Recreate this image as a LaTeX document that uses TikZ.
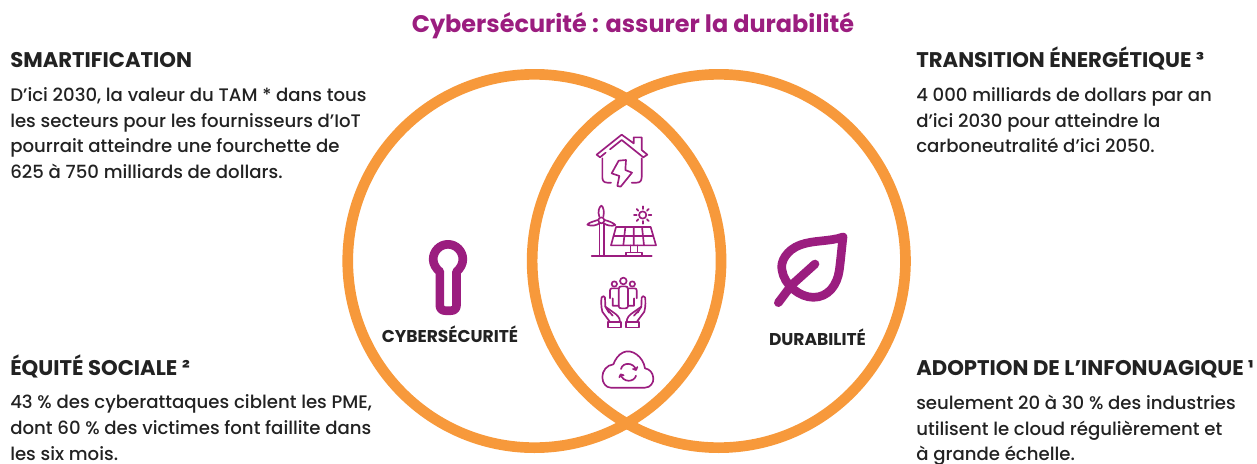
\documentclass[tikz,border=0pt]{standalone}
\usepackage{fontspec}
\setmainfont{Poppins}[UprightFont=* Medium,BoldFont=* Bold]
\usepackage{tikz}
\definecolor{magenta1}{HTML}{9B1D7F}
\definecolor{orange1}{HTML}{F7993B}
\definecolor{ink}{HTML}{222222}
\tikzstyle{ring}    = [draw=orange1,line width=8pt,circle,minimum size=280pt,inner sep=0pt]
\tikzstyle{title}   = [anchor=base,text=magenta1,font=\bfseries\fontsize{17.95pt}{20pt}\selectfont,inner sep=0pt]
\tikzstyle{heading} = [anchor=base west,text=ink,font=\bfseries\fontsize{15.9pt}{18pt}\selectfont,inner sep=0pt]
\tikzstyle{body}    = [anchor=north west,align=left,text=ink,font=\fontsize{13.6pt}{19.4pt}\selectfont,inner sep=0pt]
\tikzstyle{caption} = [anchor=base,text=ink,font=\bfseries\fontsize{12.8pt}{14pt}\selectfont,inner sep=0pt]
\tikzstyle{icon}    = [draw=magenta1,line width=1.25pt,line cap=round,line join=round,x=0.25pt,y=-0.25pt]
\tikzstyle{bigicon} = [draw=magenta1,line width=6.5pt,line cap=round,line join=round,x=0.25pt,y=-0.25pt]

\begin{document}
\begin{tikzpicture}[x=0.75pt,y=-0.75pt]
\useasboundingbox (0,0) rectangle (1257,464);

\node[ring] (C1) at (534.4,261) {};
\node[ring] (C2) at (718.8,261) {};

\node[title] (T0) at (633,32) {Cybersécurité : assurer la durabilité};

\node[heading] (H1) at (10,67)  {SMARTIFICATION};
\node[body]    (B1) at (10,87)  {D’ici 2030, la valeur du TAM * dans tous\\les secteurs pour les fournisseurs d’IoT\\pourrait atteindre une fourchette de\\625 à 750 milliards de dollars.};
\node[heading] (H2) at (10,375) {ÉQUITÉ SOCIALE ²};
\node[body]    (B2) at (10,394.5) {43 \% des cyberattaques ciblent les PME,\\dont 60 \% des victimes font faillite dans\\les six mois.};
\node[heading] (H3) at (916,67) {TRANSITION ÉNERGÉTIQUE ³};
\node[body]    (B3) at (916,87) {4 000 milliards de dollars par an\\d’ici 2030 pour atteindre la\\carboneutralité d’ici 2050.};
\node[heading] (H4) at (916,375) {ADOPTION DE L’INFONUAGIQUE ¹};
\node[body]    (B4) at (916,394.5) {seulement 20 à 30 \% des industries\\utilisent le cloud régulièrement et\\à grande échelle.};

\node[caption] (L1) at (450,342) {CYBERSÉCURITÉ};
\node[caption] (L2) at (817.5,345) {DURABILITÉ};

% keyhole
\begin{scope}[shift={(370,230)},x=0.25pt,y=-0.25pt]
\draw[bigicon] (209.5,125) -- (209.5,226) .. controls (209.5,236) and (216,242) .. (226,242) -- (243,242) .. controls (253,242) and (259.5,236) .. (259.5,226) -- (259.5,125)
    .. controls (271,116) and (278.5,102) .. (278.5,88) .. controls (278.5,63) and (258,43) .. (234,43) .. controls (210,43) and (189.5,63) .. (189.5,88) .. controls (189.5,102) and (198,116) .. (209.5,125);
\end{scope}

% leaf
\begin{scope}[shift={(750,220)},x=0.25pt,y=-0.25pt]
\draw[bigicon] (279,51) .. controls (240,65) and (190,60) .. (150,75) .. controls (110,90) and (90,125) .. (96,150) .. controls (102,195) and (150,232) .. (190,232) .. controls (235,232) and (262,195) .. (268,150) .. controls (272,120) and (275,85) .. (279,51) -- cycle;
\draw[bigicon] (85,248) -- (125,195) -- (195,132);
\end{scope}

% house
\begin{scope}[shift={(560,120)},x=0.25pt,y=-0.25pt]
\draw[icon] (150,88) -- (185,60) -- (250,112) -- (262,104) -- (245,90) -- (245,52) -- (221,52) -- (221,70) -- (185,44) -- (110,104) -- (120,112) -- (137,98);
\draw[icon] (127,115) -- (127,172) .. controls (127,182) and (132,188) .. (142,188) -- (153,188);
\draw[icon] (245,115) -- (245,172) .. controls (245,182) and (240,188) .. (230,188) -- (215,188);
\draw[icon] (198,120) -- (176,122) -- (155,160) -- (178,168) -- (172,198) -- (182,200) -- (216,158) -- (196,150) -- cycle;
\end{scope}

% wind turbine and solar panel
\begin{scope}[shift={(560,120)},x=0.25pt,y=-0.25pt]
\draw[icon] (95,407) -- (275,407);
\draw[icon] (118,407) -- (118,312) (131,407) -- (131,312);
\draw[icon] (124,301) circle (9);
\draw[icon] (118,290) .. controls (112,275) and (118,260) .. (124,257) .. controls (130,260) and (134,275) .. (130,290);
\draw[icon] (113,300) .. controls (100,305) and (85,308) .. (82,314) .. controls (95,320) and (110,316) .. (118,310);
\draw[icon] (134,300) .. controls (145,303) and (160,308) .. (166,315) .. controls (155,320) and (140,316) .. (131,310);
\draw[icon] (168,321) -- (272,321) -- (288,376) -- (153,376) -- cycle;
\draw[icon] (160,348) -- (280,348) (196,321) -- (190,376) (221,321) -- (221,376) (246,321) -- (252,376);
\draw[icon] (211,376) -- (211,397) (232,376) -- (232,397);
\draw[icon] (197,397) rectangle (245,406);
\draw[icon] (248,285) circle (11);
\foreach \a/\b/\c/\d in {248/259/248/267,248/303/248/311,222/285/230/285,266/285/274/285,230/267/235/272,261/298/266/303,266/267/261/272,235/298/230/303}
    \draw[icon] (\a,\b) -- (\c,\d);
\end{scope}

% people in hands
\begin{scope}[shift={(560,265)},x=0.25pt,y=-0.25pt]
\draw[icon] (163,57) circle (8) (190,48) circle (10) (217,57) circle (8);
\draw[icon] (176,72) .. controls (176,66) and (180,64) .. (185,64) -- (195,64) .. controls (200,64) and (204,66) .. (204,72) -- (204,124) .. controls (204,128) and (200,130) .. (196,130) -- (184,130) .. controls (180,130) and (176,128) .. (176,124) -- cycle;
\draw[icon] (176,70) -- (156,70) .. controls (152,70) and (150,73) .. (150,76) -- (150,100) (158,100) -- (158,122) -- (176,122);
\draw[icon] (204,70) -- (224,70) .. controls (228,70) and (230,73) .. (230,76) -- (230,100) (222,100) -- (222,122) -- (204,122);
\foreach \s in {0,1} {
\begin{scope}[xshift=\s*380*0.25pt,xscale=1-2*\s]
\draw[icon] (143,171) rectangle (182,187);
\draw[icon] (150,171) -- (127,140) .. controls (123,125) and (123,105) .. (125,97) .. controls (128,92) and (134,92) .. (135,98) -- (136,125) -- (147,143);
\draw[icon] (136,125) -- (160,142) .. controls (172,150) and (180,158) .. (180,171);
\draw[icon] (145,137) -- (158,152);
\end{scope}
}
\end{scope}

% cloud
\begin{scope}[shift={(560,265)},x=0.25pt,y=-0.25pt]
\draw[icon] (152,368) -- (255,368) .. controls (272,368) and (281,352) .. (280,340) .. controls (279,322) and (268,312) .. (255,310) .. controls (250,275) and (215,250) .. (190,262) .. controls (175,268) and (165,285) .. (160,298) .. controls (140,300) and (127,318) .. (127,336) .. controls (127,354) and (138,368) .. (152,368) -- cycle;
\draw[icon] (183,312) .. controls (187,291) and (222,291) .. (228,315) (228,315) -- (232,306) (228,315) -- (219,312);
\draw[icon] (228,332) .. controls (222,353) and (188,353) .. (182,328) (182,328) -- (178,337) (182,328) -- (191,331);
\end{scope}

\end{tikzpicture}
\end{document}
